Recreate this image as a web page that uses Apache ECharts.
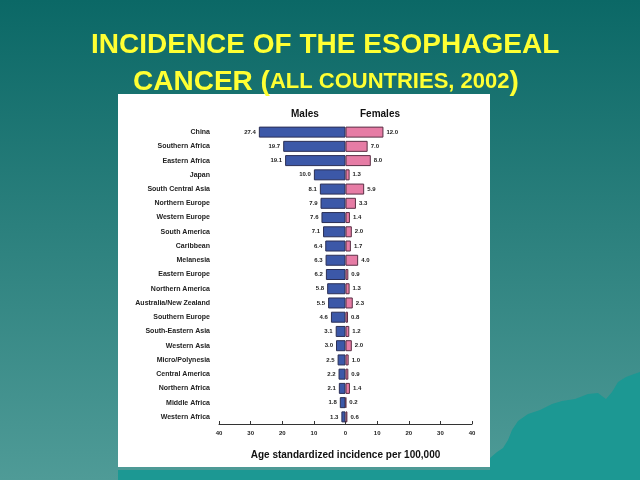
<!DOCTYPE html>
<html>
<head>
<meta charset="utf-8">
<script src="https://cdn.jsdelivr.net/npm/echarts@6/dist/echarts.min.js"></script>
<style>html,body{margin:0;padding:0;}#c{width:640px;height:480px;}</style>
</head>
<body>
<div id="c"></div>
<script>
const regions = ['China','Southern Africa','Eastern Africa','Japan','South Central Asia','Northern Europe','Western Europe','South America','Caribbean','Melanesia','Eastern Europe','Northern America','Australia/New Zealand','Southern Europe','South-Eastern Asia','Western Asia','Micro/Polynesia','Central America','Northern Africa','Middle Africa','Western Africa'];
const males = [27.4,19.7,19.1,10.0,8.1,7.9,7.6,7.1,6.4,6.3,6.2,5.8,5.5,4.6,3.1,3.0,2.5,2.2,2.1,1.8,1.3];
const females = [12.0,7.0,8.0,1.3,5.9,3.3,1.4,2.0,1.7,4.0,0.9,1.3,2.3,0.8,1.2,2.0,1.0,0.9,1.4,0.2,0.6];
const xTicks = [-40,-30,-20,-10,0,10,20,30,40];

const chart = echarts.init(document.getElementById('c'));
const FONT = '"Liberation Sans", Arial, sans-serif';
chart.setOption({
  animation: false,
  textStyle: {fontFamily: FONT},
  graphic: [
    {type:'rect', z:-10, shape:{x:0,y:0,width:640,height:480},
     style:{fill:new echarts.graphic.LinearGradient(0,0,0,1,[{offset:0,color:'#0b6866'},{offset:1,color:'#4f9b97'}])}},
    {type:'polygon', z:-9, shape:{points:[[490,458],[497,452],[503,448],[508,440],[512,430],[518,421],[528,414],[540,410],[552,404],[562,401],[575,399],[588,394],[598,393],[606,399],[612,392],[618,382],[626,377],[634,374],[640,372],[640,480],[118,480],[118,470],[490,470]]},
     style:{fill:'#1c9893'}},
    {type:'rect', z:-8, shape:{x:118,y:94,width:372,height:373}, style:{fill:'#ffffff'}},
    {type:'text', z:5, left:291, top:109, style:{text:'Males', font:'bold 10px '+FONT, fill:'#111'}},
    {type:'text', z:5, left:360, top:109, style:{text:'Females', font:'bold 10px '+FONT, fill:'#111'}}
  ],
  title: [
    {text:'INCIDENCE OF THE ESOPHAGEAL', left:91, top:31, padding:0,
     textStyle:{color:'#ffff33', fontSize:28, fontWeight:'bold', fontFamily:FONT}},
    {text:'{a|CANCER (}{b|ALL COUNTRIES, 2002}{a|)}', left:133, top:68, padding:0,
     textStyle:{rich:{
       a:{color:'#ffff33', fontSize:28, fontWeight:'bold', fontFamily:FONT},
       b:{color:'#ffff33', fontSize:22, fontWeight:'bold', fontFamily:FONT}
     }}}
  ],
  grid: {left:219, right:168, top:125, bottom:56, containLabel:false},
  xAxis: {
    type:'value', min:-40, max:40, interval:10,
    axisLine:{show:true, lineStyle:{color:'#333', width:1}},
    axisTick:{show:true, inside:true, length:3, lineStyle:{color:'#333'}},
    splitLine:{show:false},
    axisLabel:{fontSize:6, fontWeight:'bold', color:'#222', margin:6, formatter:v=>String(Math.abs(v))},
    name:'Age standardized incidence per 100,000', nameLocation:'middle', nameGap:26,
    nameTextStyle:{fontSize:10, fontWeight:'bold', color:'#111'}
  },
  yAxis: {
    type:'category', data:regions, inverse:true,
    axisLine:{show:false}, axisTick:{show:false}, splitLine:{show:false},
    axisLabel:{fontSize:7, fontWeight:'bold', color:'#222', margin:9}
  },
  series: [
    {name:'Males', type:'bar', data:males.map(v=>-v), barWidth:11, barGap:'-100%',
     itemStyle:{color:'#3c58a8', borderColor:'#2b2f55', borderWidth:1},
     label:{show:true, position:'left', distance:3, fontSize:6, fontWeight:'bold', color:'#222', formatter:p=>Math.abs(p.value).toFixed(1)}},
    {name:'Females', type:'bar', data:females, barWidth:11, barGap:'-100%',
     itemStyle:{color:'#e67ca5', borderColor:'#5a2f45', borderWidth:1},
     label:{show:true, position:'right', distance:3, fontSize:6, fontWeight:'bold', color:'#222', formatter:p=>p.value.toFixed(1)}}
  ]
});
</script>
</body>
</html>
